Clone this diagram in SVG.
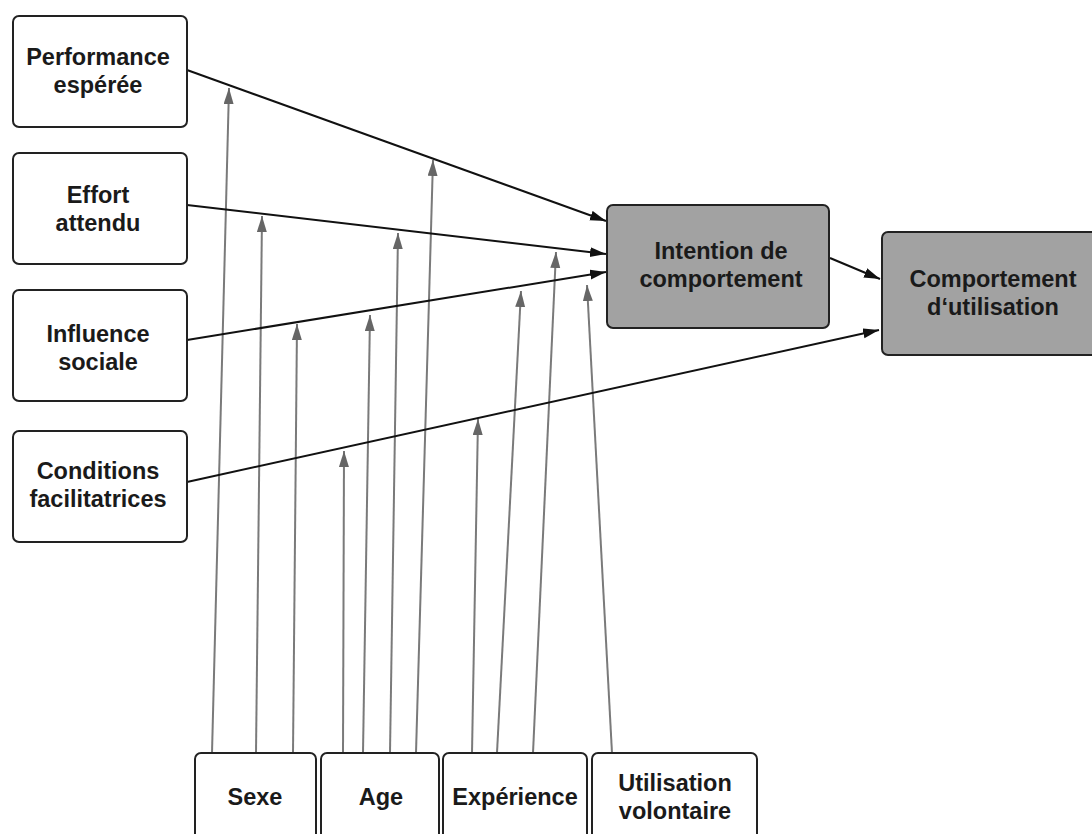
<svg xmlns="http://www.w3.org/2000/svg" width="1092" height="834" viewBox="0 0 1092 834">
  <style>
    .box { fill: #ffffff; stroke: #222222; stroke-width: 2; }
    .dark { fill: #a2a2a2; stroke: #222222; stroke-width: 2; }
    .lbl { font-family: "Liberation Sans", Arial, sans-serif; font-weight: bold; font-size: 23.5px; fill: #1a1a1a; text-anchor: middle; }
    .main { stroke: #111111; stroke-width: 2; fill: none; marker-end: url(#headBlack); }
    .mod { stroke: #7a7a7a; stroke-width: 2; fill: none; marker-end: url(#headGray); }
  </style>
  <defs>
    <marker id="headBlack" markerUnits="userSpaceOnUse" markerWidth="17" markerHeight="11" refX="16" refY="5" orient="auto">
      <path d="M0,0 L16,5 L0,10 z" fill="#111111"/>
    </marker>
    <marker id="headGray" markerUnits="userSpaceOnUse" markerWidth="17" markerHeight="11" refX="16" refY="5" orient="auto">
      <path d="M0,0 L16,5 L0,10 z" fill="#666666"/>
    </marker>
  </defs>

  <rect width="1092" height="834" fill="#ffffff"/>

  <!-- moderator links (gray) -->
  <g id="moderator-links">
    <line class="mod" x1="212" y1="753" x2="229" y2="88"/>
    <line class="mod" x1="256" y1="753" x2="262" y2="216"/>
    <line class="mod" x1="293" y1="753" x2="297" y2="324"/>
    <line class="mod" x1="343" y1="753" x2="344" y2="451"/>
    <line class="mod" x1="363" y1="753" x2="370" y2="315"/>
    <line class="mod" x1="390" y1="753" x2="398" y2="233"/>
    <line class="mod" x1="416" y1="753" x2="433" y2="160"/>
    <line class="mod" x1="472" y1="753" x2="478" y2="419"/>
    <line class="mod" x1="497" y1="753" x2="521" y2="291"/>
    <line class="mod" x1="533" y1="753" x2="556" y2="252"/>
    <line class="mod" x1="612" y1="753" x2="587" y2="285"/>
  </g>

  <!-- main links (black) -->
  <g id="main-links">
    <line class="main" x1="187" y1="70" x2="606" y2="221"/>
    <line class="main" x1="187" y1="205" x2="606" y2="254"/>
    <line class="main" x1="187" y1="340" x2="606" y2="272"/>
    <line class="main" x1="187" y1="482" x2="879" y2="330"/>
    <line class="main" x1="830" y1="258" x2="880" y2="279"/>
  </g>

  <g id="performance">
    <rect class="box" x="13" y="16" width="174" height="111" rx="6"/>
    <text class="lbl" x="98" y="65">Performance</text>
    <text class="lbl" x="98" y="93">espérée</text>
  </g>
  <g id="effort">
    <rect class="box" x="13" y="153" width="174" height="111" rx="6"/>
    <text class="lbl" x="98" y="203">Effort</text>
    <text class="lbl" x="98" y="231">attendu</text>
  </g>
  <g id="influence">
    <rect class="box" x="13" y="290" width="174" height="111" rx="6"/>
    <text class="lbl" x="98" y="342">Influence</text>
    <text class="lbl" x="98" y="370">sociale</text>
  </g>
  <g id="conditions">
    <rect class="box" x="13" y="431" width="174" height="111" rx="6"/>
    <text class="lbl" x="98" y="479">Conditions</text>
    <text class="lbl" x="98" y="507">facilitatrices</text>
  </g>

  <g id="intention">
    <rect class="dark" x="607" y="205" width="222" height="123" rx="6"/>
    <text class="lbl" x="721" y="259">Intention de</text>
    <text class="lbl" x="721" y="287">comportement</text>
  </g>
  <g id="usage">
    <rect class="dark" x="882" y="232" width="226" height="123" rx="6"/>
    <text class="lbl" x="993" y="287">Comportement</text>
    <text class="lbl" x="993" y="315">d‘utilisation</text>
  </g>

  <g id="sexe">
    <rect class="box" x="195" y="753" width="121" height="100" rx="6"/>
    <text class="lbl" x="255" y="805">Sexe</text>
  </g>
  <g id="age">
    <rect class="box" x="321" y="753" width="118" height="100" rx="6"/>
    <text class="lbl" x="381" y="805">Age</text>
  </g>
  <g id="experience">
    <rect class="box" x="443" y="753" width="144" height="100" rx="6"/>
    <text class="lbl" x="515" y="805">Expérience</text>
  </g>
  <g id="volontaire">
    <rect class="box" x="592" y="753" width="165" height="100" rx="6"/>
    <text class="lbl" x="675" y="791">Utilisation</text>
    <text class="lbl" x="675" y="819">volontaire</text>
  </g>
</svg>
